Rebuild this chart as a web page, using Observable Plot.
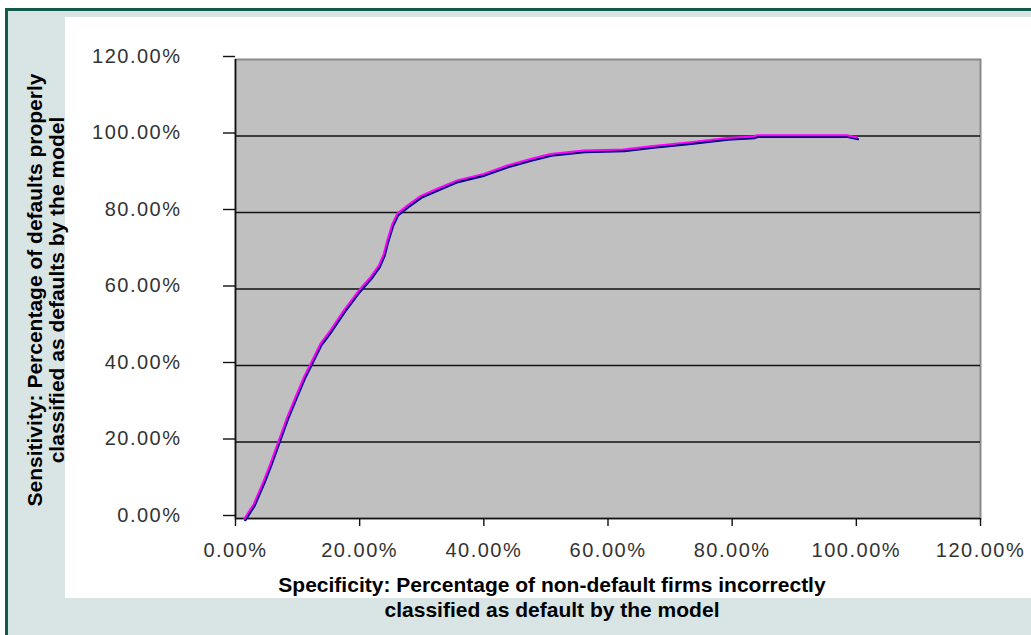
<!DOCTYPE html>
<html>
<head>
<meta charset="utf-8">
<script src="https://cdn.jsdelivr.net/npm/d3@7"></script>
<script src="https://cdn.jsdelivr.net/npm/@observablehq/plot@0.6"></script>
<style>
  html, body { margin: 0; padding: 0; background: white; }
  #wrap { position: relative; width: 1031px; height: 635px; overflow: hidden; background: white; font-family: "Liberation Sans", Arial, sans-serif; }
  #outer { position: absolute; left: 5px; top: 8px; width: 1040px; height: 640px; background: #d9e4e4; border-left: 3px solid #12594e; border-top: 3px solid #12594e; }
  #panel { position: absolute; left: 65px; top: 17px; width: 980px; height: 581px; background: white; }
  #chart { position: absolute; left: 0; top: 0; }
  #chart svg text { letter-spacing: 1.5px; }
  .title { position: absolute; font-weight: bold; font-size: 21px; color: #000; text-align: center; line-height: 25px; white-space: nowrap; }
  #ytitle { left: -234px; top: 268px; width: 560px; height: 44px; line-height: 22px; transform: rotate(-90deg); transform-origin: 280px 22px; }
  #xtitle { left: 152px; top: 572px; width: 800px; }
</style>
</head>
<body>
<div id="wrap">
  <div id="outer"></div>
  <div id="panel"></div>
  <div id="chart"></div>
  <div class="title" id="ytitle">Sensitivity: Percentage of defaults properly<br>classified as defaults by the model</div>
  <div class="title" id="xtitle">Specificity: Percentage of non-default firms incorrectly<br>classified as default by the model</div>
</div>
<script>
// ROC curve values (percent)
const falsePositiveRate = [1.45, 2.95, 4.56, 5.64, 6.97, 8.33, 9.66, 11.0, 12.08, 13.69, 15.3, 17.45, 19.86, 21.75, 23.08, 23.89, 24.44, 25.24, 26.05, 27.66, 29.8, 32.49, 35.7, 40.0, 43.77, 47.52, 50.74, 56.1, 62.5, 66.85, 73.3, 79.2, 83.5, 84.0, 98.5, 100.1];
const truePositiveRate  = [0.0, 3.8, 9.9, 14.4, 20.4, 26.5, 31.7, 36.9, 40.4, 45.7, 49.2, 54.4, 59.6, 63.1, 66.1, 69.2, 72.7, 76.9, 79.7, 81.8, 84.3, 86.2, 88.4, 90.1, 92.3, 94.0, 95.3, 96.2, 96.5, 97.3, 98.4, 99.5, 99.9, 100.2, 100.2, 99.6];
const tickValues = [0, 20, 40, 60, 80, 100, 120];
const gridValues = [20, 40, 60, 80, 100];

const data = falsePositiveRate.map((x, i) => ({x, y: truePositiveRate[i]}));
const fmt = d => d.toFixed(2) + "%";

const chart = Plot.plot({
  width: 1031,
  height: 635,
  marginLeft: 235,
  marginRight: 51,
  marginTop: 59,
  marginBottom: 117,
  style: {background: "transparent", fontFamily: "'Liberation Sans', Arial, sans-serif", fontSize: "20px", color: "#333"},
  x: {domain: [0, 120], ticks: tickValues},
  y: {domain: [0, 120], ticks: tickValues},
  marks: [
    Plot.frame({fill: "#c0c0c0", stroke: "#8a8a8a", strokeWidth: 2}),
    Plot.ruleY(gridValues, {stroke: "#111", strokeWidth: 1.6}),
    Plot.ruleX([0], {stroke: "#111", strokeWidth: 1.6}),
    Plot.ruleY([0], {stroke: "#111", strokeWidth: 1.6}),
    Plot.axisY({ticks: tickValues, tickSize: 12, tickPadding: 42, tickFormat: fmt, fontSize: 20, stroke: "#111", strokeWidth: 1.4, fill: "#333", dy: -3, label: null}),
    Plot.axisX({ticks: tickValues, tickSize: 8, tickPadding: 16, tickFormat: fmt, fontSize: 20, stroke: "#111", strokeWidth: 1.4, fill: "#333", label: null}),
    Plot.line(data, {x: "x", y: "y", stroke: "#000080", strokeWidth: 2.4, dy: 1.6, dx: 0.8}),
    Plot.line(data, {x: "x", y: "y", stroke: "#ff00ff", strokeWidth: 2})
  ]
});
document.getElementById("chart").appendChild(chart);
</script>
</body>
</html>
